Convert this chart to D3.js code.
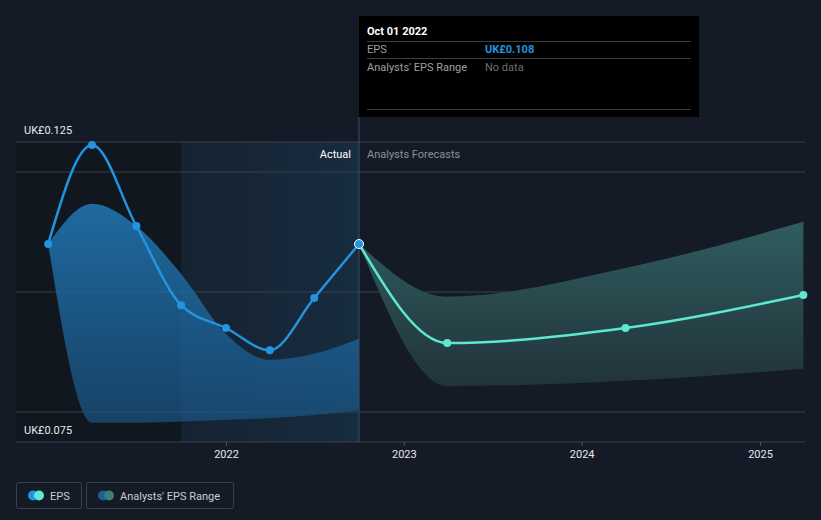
<!DOCTYPE html>
<html><head><meta charset="utf-8">
<script src="https://cdn.jsdelivr.net/npm/d3@7"></script>
<style>
html,body{margin:0;padding:0;background:#151b26;}
svg{display:block;font-family:Roboto,"Noto Sans",sans-serif;}
</style></head>
<body>
<svg id="c" width="821" height="520"></svg>
<script>
// ---- data ----
const actualDates = ["2021-01-01","2021-04-01","2021-07-01","2021-10-01","2022-01-01","2022-04-01","2022-07-01","2022-10-01"];
const actualEPS   = [0.108, 0.1245, 0.111, 0.0978, 0.094, 0.0903, 0.099, 0.108];
const pastRangeHigh = [0.108, 0.1147, 0.111, 0.103, 0.0930, 0.0887, 0.0897, 0.0922];
const pastRangeLow  = [0.108, 0.0782, 0.0782, 0.0784, 0.0787, 0.0790, 0.0795, 0.0803];
const forecastDates = ["2022-10-01","2023-03-31","2024-03-31","2025-03-31"];
const forecastEPS   = [0.108, 0.0915, 0.094, 0.0995];
const forecastHigh  = [0.108, 0.0992, 0.1040, 0.1117];
const forecastLow   = [0.108, 0.0843, 0.0852, 0.0872];
const yTicks = [0.08, 0.10, 0.12];
const yLabels = ["UK£0.125", "UK£0.075"];
const xTickYears = [2022, 2023, 2024, 2025];

(function(){
const P = d3.timeParse("%Y-%m-%d");
const svg = d3.select("#c");
const left = 16, right = 805, top = 142, bottom = 442;

const x = d3.scaleTime()
  .domain([new Date(2022,0,1), new Date(2025,0,1)])
  .range([226, 760]);
const y = d3.scaleLinear().domain([0.075, 0.125]).range([bottom, top]);

const defs = svg.append("defs");
const g1 = defs.append("linearGradient").attr("id","pastFill").attr("x1",0).attr("y1",0).attr("x2",0).attr("y2",1);
g1.append("stop").attr("offset","0%").attr("stop-color","#2179b8").attr("stop-opacity",0.85);
g1.append("stop").attr("offset","100%").attr("stop-color","#1a5585").attr("stop-opacity",0.7);
const g2 = defs.append("linearGradient").attr("id","fcFill").attr("x1",0).attr("y1",0).attr("x2",0).attr("y2",1);
g2.append("stop").attr("offset","0%").attr("stop-color","#2f5d5e");
g2.append("stop").attr("offset","100%").attr("stop-color","#21333a");
const g3 = defs.append("linearGradient").attr("id","band").attr("x1",0).attr("y1",0).attr("x2",1).attr("y2",0);
g3.append("stop").attr("offset","0%").attr("stop-color","#2394df").attr("stop-opacity",0.06);
g3.append("stop").attr("offset","100%").attr("stop-color","#2394df").attr("stop-opacity",0.14);

// background regions
const nowX = x(P("2022-10-01"));
const bandStart = x(P("2021-10-01"));
svg.append("rect").attr("x",left).attr("y",top).attr("width",bandStart-left).attr("height",bottom-top).attr("fill","#10151d").attr("opacity",0.7);
svg.append("rect").attr("x",bandStart).attr("y",top).attr("width",nowX-bandStart).attr("height",bottom-top).attr("fill","url(#band)");

// grid
svg.append("g").selectAll("line").data([0.125].concat(yTicks)).join("line")
  .attr("x1",left).attr("x2",right).attr("y1",d=>y(d)).attr("y2",d=>y(d))
  .attr("stroke","#3a414c").attr("stroke-width",1);

// areas
const curve = d3.curveMonotoneX;
const pastData = actualDates.map((d,i)=>({d:P(d),hi:pastRangeHigh[i],lo:pastRangeLow[i]}));
svg.append("path").datum(pastData)
  .attr("d", d3.area().curve(curve).x(d=>x(d.d)).y0(d=>y(d.lo)).y1(d=>y(d.hi)))
  .attr("fill","url(#pastFill)");
const fcData = forecastDates.map((d,i)=>({d:P(d),hi:forecastHigh[i],lo:forecastLow[i]}));
svg.append("path").datum(fcData)
  .attr("d", d3.area().curve(curve).x(d=>x(d.d)).y0(d=>y(d.lo)).y1(d=>y(d.hi)))
  .attr("fill","url(#fcFill)");

// axis
svg.append("line").attr("x1",left).attr("x2",right).attr("y1",bottom).attr("y2",bottom).attr("stroke","#3a414c");
const xAxis = svg.append("g").attr("transform",`translate(0,${bottom})`)
  .call(d3.axisBottom(x).tickValues(xTickYears.map(yr=>new Date(yr,0,1))).tickFormat(d3.timeFormat("%Y")).tickSize(4).tickPadding(4));
xAxis.select(".domain").remove();
xAxis.selectAll("line").attr("stroke","#4a515c");
xAxis.selectAll("text").attr("fill","#e6e8eb").attr("font-size",11).attr("font-family","Roboto,sans-serif");

// y labels
svg.append("text").attr("x",24).attr("y",top-8).text(yLabels[0]).attr("fill","#e6e8eb").attr("font-size",11);
svg.append("text").attr("x",24).attr("y",bottom-8).text(yLabels[1]).attr("fill","#e6e8eb").attr("font-size",11);

// now line
svg.append("line").attr("x1",nowX).attr("x2",nowX).attr("y1",117).attr("y2",bottom).attr("stroke","#35506a").attr("stroke-width",1);

svg.append("text").attr("x",nowX-8).attr("y",158).attr("text-anchor","end").text("Actual").attr("fill","#ffffff").attr("font-size",11);
svg.append("text").attr("x",nowX+8).attr("y",158).text("Analysts Forecasts").attr("fill","#8a9099").attr("font-size",11);

// lines
const line = d3.line().curve(curve).x(d=>x(d.d)).y(d=>y(d.v));
const fcLine = forecastDates.map((d,i)=>({d:P(d),v:forecastEPS[i]}));
svg.append("path").datum(fcLine).attr("d",line).attr("fill","none").attr("stroke","#5de8d0").attr("stroke-width",2.5);
const actLine = actualDates.map((d,i)=>({d:P(d),v:actualEPS[i]}));
svg.append("path").datum(actLine).attr("d",line).attr("fill","none").attr("stroke","#2394df").attr("stroke-width",2.5);

svg.append("g").selectAll("circle").data(fcLine.slice(1)).join("circle")
  .attr("cx",d=>x(d.d)).attr("cy",d=>y(d.v)).attr("r",4).attr("fill","#5de8d0");
svg.append("g").selectAll("circle").data(actLine.slice(0,-1)).join("circle")
  .attr("cx",d=>x(d.d)).attr("cy",d=>y(d.v)).attr("r",4).attr("fill","#2394df");
const last = actLine[actLine.length-1];
svg.append("circle").attr("cx",x(last.d)).attr("cy",y(last.v)).attr("r",4.5).attr("fill","#2394df").attr("stroke","#ffffff").attr("stroke-width",1);

// tooltip
const tt = svg.append("g");
tt.append("rect").attr("x",nowX).attr("y",16).attr("width",340).attr("height",101).attr("fill","#000000");
tt.append("text").attr("x",nowX+8).attr("y",35).text("Oct 01 2022").attr("fill","#ffffff").attr("font-size",11).attr("font-weight","bold");
[41,58,109].forEach(yy=>tt.append("line").attr("x1",nowX+8).attr("x2",nowX+332).attr("y1",yy+0.5).attr("y2",yy+0.5).attr("stroke","#3a3d42"));
tt.append("text").attr("x",nowX+8).attr("y",53).text("EPS").attr("fill","#9aa0a8").attr("font-size",11);
tt.append("text").attr("x",nowX+126).attr("y",53).text("UK£"+d3.format(".3f")(last.v)).attr("fill","#2394df").attr("font-size",11).attr("font-weight","bold");
tt.append("text").attr("x",nowX+8).attr("y",71).text("Analysts' EPS Range").attr("fill","#9aa0a8").attr("font-size",11);
tt.append("text").attr("x",nowX+126).attr("y",71).text("No data").attr("fill","#6b7078").attr("font-size",11);

// legend
const lg = svg.append("g");
const items = [{label:"EPS", c1:"#2394df", c2:"#5de8d0", x:16, w:65},{label:"Analysts' EPS Range", c1:"#1f5f8f", c2:"#3a7f7a", x:86, w:147}];
items.forEach(it=>{
  lg.append("rect").attr("x",it.x+0.5).attr("y",482.5).attr("width",it.w).attr("height",26).attr("rx",2).attr("fill","none").attr("stroke","#3a414c");
  lg.append("circle").attr("cx",it.x+17).attr("cy",495.5).attr("r",5).attr("fill",it.c1);
  lg.append("circle").attr("cx",it.x+23).attr("cy",495.5).attr("r",5).attr("fill",it.c2);
  lg.append("text").attr("x",it.x+34).attr("y",499.5).text(it.label).attr("fill","#c8ccd2").attr("font-size",11);
});
})();
</script>
</body></html>
